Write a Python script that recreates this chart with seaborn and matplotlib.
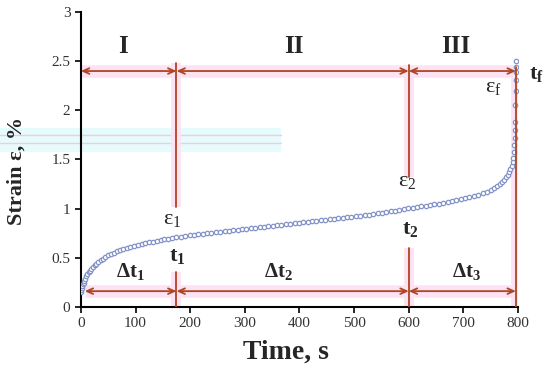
import matplotlib
matplotlib.use("Agg")
import matplotlib.pyplot as plt
import seaborn as sns
import pandas as pd
from matplotlib.patches import Rectangle
from matplotlib.lines import Line2D

# creep curve
time_s = [0, 1, 2, 3, 4, 5, 6, 8, 10, 12, 14, 16, 19, 22, 25, 28, 32, 36, 40, 45, 50, 55,
          60, 66, 72, 78, 84, 90, 97, 104, 111, 118, 125, 132, 139, 146, 153, 160, 167, 175,
          183, 191, 199, 207, 215, 223, 231, 239, 247, 255, 263, 271, 279, 287, 295, 303,
          311, 319, 327, 335, 343, 351, 359, 367, 375, 383, 391, 399, 407, 415, 423, 431,
          439, 447, 455, 463, 471, 479, 487, 495, 503, 511, 519, 527, 535, 543, 551, 559,
          567, 575, 583, 591, 599, 607, 615, 623, 631, 639, 647, 655, 663, 671, 679, 687,
          695, 703, 711, 719, 727, 735, 743, 750, 756, 761, 766, 770, 774, 778, 781, 784,
          786, 788, 790, 791, 792, 793, 793.5, 794, 794.5, 795, 795.5, 796, 796.3, 796.6, 797]
strain = [0.15, 0.17, 0.19, 0.21, 0.23, 0.245, 0.26, 0.285, 0.31, 0.33, 0.35, 0.365, 0.385,
          0.405, 0.425, 0.44, 0.46, 0.475, 0.49, 0.51, 0.525, 0.54, 0.55, 0.565, 0.575, 0.59,
          0.60, 0.61, 0.62, 0.63, 0.64, 0.65, 0.66, 0.665, 0.675, 0.68, 0.69, 0.695, 0.70, 0.71,
          0.716, 0.722, 0.728, 0.733, 0.739, 0.745, 0.750, 0.756, 0.761, 0.766, 0.771, 0.776,
          0.781, 0.786, 0.791, 0.796, 0.801, 0.806, 0.811, 0.816, 0.821, 0.826, 0.831, 0.836,
          0.841, 0.846, 0.851, 0.856, 0.861, 0.866, 0.871, 0.876, 0.881, 0.886, 0.892, 0.897,
          0.902, 0.908, 0.913, 0.918, 0.924, 0.929, 0.935, 0.940, 0.946, 0.952, 0.958, 0.964,
          0.971, 0.978, 0.985, 0.993, 1.002, 1.008, 1.015, 1.022, 1.029, 1.036, 1.043, 1.051,
          1.059, 1.067, 1.076, 1.085, 1.095, 1.105, 1.116, 1.128, 1.141, 1.155, 1.171, 1.19,
          1.21, 1.23, 1.25, 1.27, 1.295, 1.32, 1.345, 1.375, 1.40, 1.43, 1.47, 1.52, 1.58,
          1.65, 1.72, 1.80, 1.88, 2.05, 2.20, 2.31, 2.39, 2.44, 2.50]

# stage boundaries t0, t1, t2, tf
bounds = [0, 175, 600, 796]
stages = ["I", "II", "III"]
dt_labels = ["Δt$_\\mathregular{1}$", "Δt$_\\mathregular{2}$", "Δt$_\\mathregular{3}$"]

df = pd.DataFrame({"t": time_s, "eps": strain})

sns.set_style("white")
plt.rcParams["font.family"] = ["Liberation Serif", "DejaVu Serif"]
plt.rcParams["mathtext.fontset"] = "custom"
plt.rcParams["mathtext.rm"] = "Liberation Serif"
plt.rcParams["mathtext.bf"] = "Liberation Serif:bold"

fig = plt.figure(figsize=(5.5, 3.77), dpi=100)
ax = fig.add_axes([0.147, 0.186, 0.795, 0.782])
ax.patch.set_facecolor("none")

# faint cyan band left over in the source image
fig.add_artist(Rectangle((0, 0.598), 0.51, 0.062, transform=fig.transFigure,
                         color="#e6fbfb", zorder=-2, lw=0))
for yy in (0.642, 0.620):
    fig.add_artist(Line2D([0, 0.51], [yy, yy], transform=fig.transFigure,
                          color="#f8c4ea", lw=1, zorder=-1))

red = "#ad4520"
glow = "#fde2f3"

# vertical markers (pieces between labels)
vsegs = [(bounds[1], 0, 0.35), (bounds[1], 1.02, 2.48),
         (bounds[2], 0, 0.60), (bounds[2], 1.32, 2.46),
         (bounds[3], 0, 2.44)]
for x, y0, y1 in vsegs:
    ax.plot([x, x], [y0, y1], color=glow, lw=7, zorder=1, solid_capstyle="butt")

for y, start in ((2.40, bounds[0]), (0.16, 7)):
    ax.plot([start, bounds[3]], [y, y], color=glow, lw=9, zorder=1, solid_capstyle="butt")

sns.scatterplot(data=df, x="t", y="eps", ax=ax, marker="o", s=10,
                facecolor="white", edgecolor="#8494c8", linewidth=0.9, zorder=3)

for x, y0, y1 in vsegs:
    ax.plot([x, x], [y0, y1], color=red, lw=1.3, zorder=4)

for y, start in ((2.40, bounds[0]), (0.16, 7)):
    xs = [start] + bounds[1:]
    for a, b in zip(xs[:-1], xs[1:]):
        ax.annotate("", xy=(b, y), xytext=(a, y),
                    arrowprops=dict(arrowstyle="<->,head_length=0.45,head_width=0.2",
                                    color=red, lw=1.3, shrinkA=0, shrinkB=0), zorder=5)

# stage names and labels
for name, x in zip(stages, [77, 389, 686]):
    ax.text(x, 2.65, name, ha="center", va="center", fontsize=18, fontweight="bold")
for lab, x in zip(dt_labels, [90, 362, 705]):
    ax.text(x, 0.35, lab, ha="center", va="center", fontsize=15, fontweight="bold")

ax.text(168, 0.88, "ε$_\\mathregular{1}$", ha="center", va="center", fontsize=16)
ax.text(176, 0.51, "t$_\\mathregular{1}$", ha="center", va="center", fontsize=16, fontweight="bold")
ax.text(597, 1.27, "ε$_\\mathregular{2}$", ha="center", va="center", fontsize=16)
ax.text(602, 0.78, "t$_\\mathregular{2}$", ha="center", va="center", fontsize=16, fontweight="bold")
ax.text(754, 2.22, "ε$_\\mathregular{f}$", ha="center", va="center", fontsize=16)
ax.text(833, 2.36, "t$_\\mathregular{f}$", ha="center", va="center", fontsize=16,
        fontweight="bold", clip_on=False)

ax.set_xlim(0, 800)
ax.set_ylim(0, 3)
ax.set_xticks(range(0, 801, 100))
ax.set_yticks([0, 0.5, 1, 1.5, 2, 2.5, 3])
ax.set_yticklabels(["0", "0.5", "1", "1.5", "2", "2.5", "3"])
ax.tick_params(direction="out", length=4, width=1.2, labelsize=11, colors="black",
               labelcolor="#333333", left=True, bottom=True)
for side in ("top", "right"):
    ax.spines[side].set_visible(False)
for side in ("left", "bottom"):
    ax.spines[side].set_color("black")
    ax.spines[side].set_linewidth(1.5)

ax.set_xlabel("Time, s", fontsize=20, fontweight="bold")
ax.set_ylabel("Strain ε, %", fontsize=16, fontweight="bold")
ax.xaxis.set_label_coords(0.47, -0.11)
ax.yaxis.set_label_coords(-0.125, 0.46)
if ax.legend_:
    ax.legend_.remove()

fig.savefig("out.png", dpi=100)
